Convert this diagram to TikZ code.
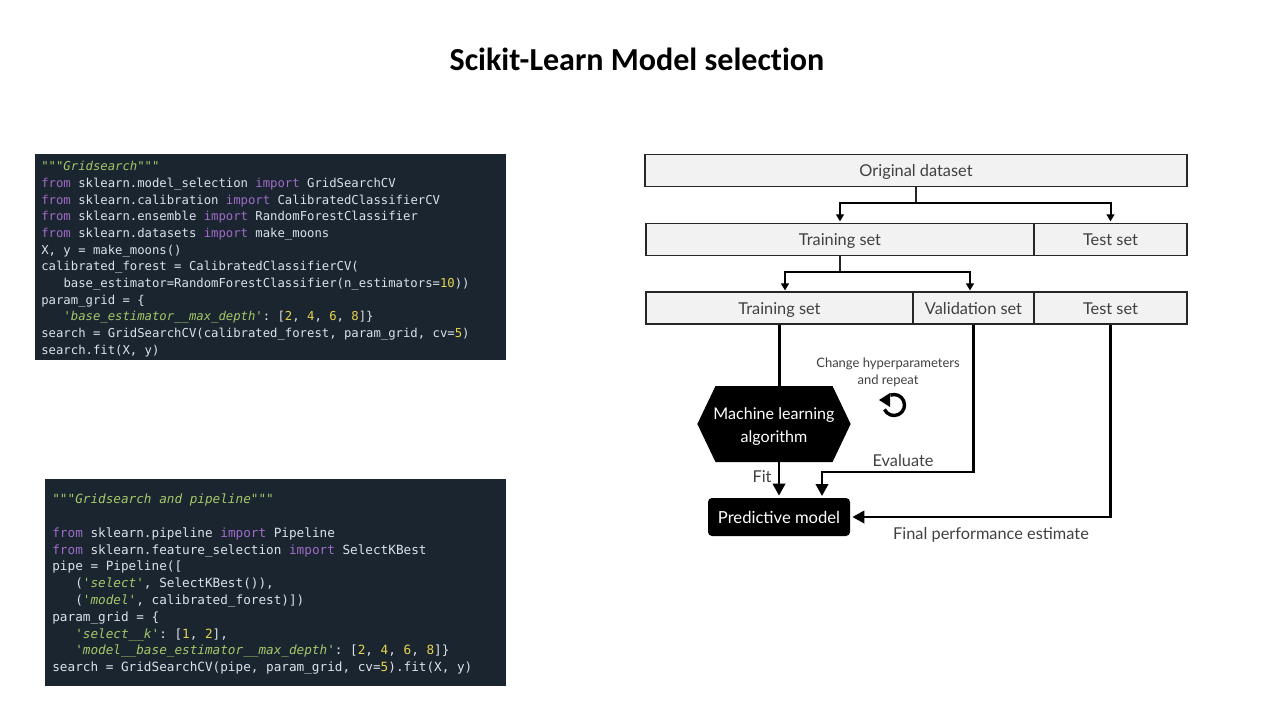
\documentclass[tikz,border=0pt]{standalone}
\usepackage{fontspec}
\setmainfont{Lato}
\newfontfamily\titlefamily[Ligatures=NoCommon]{Carlito}
\newfontfamily\codefamily{DejaVu Sans Mono}
\usetikzlibrary{arrows,arrows.meta,shapes}

\newcommand{\px}{0.02cm}
\newcommand{\kw}[1]{\textcolor{codekw}{#1}}
\newcommand{\str}[1]{\textcolor{codestr}{\itshape #1}}
\newcommand{\num}[1]{\textcolor{codenum}{#1}}
\newcommand{\monospaces}{\spaceskip=0.602em \xspaceskip=0.602em \rule{0pt}{7.3pt}}

\begin{document}
\begin{tikzpicture}[>=stealth',x=\px,y=-\px]

  \definecolor{codebg}{HTML}{1A2530}
  \definecolor{codetxt}{HTML}{DCE2E8}
  \definecolor{codekw}{HTML}{A06CC8}
  \definecolor{codestr}{HTML}{A6C868}
  \definecolor{codenum}{HTML}{E6D44E}
  \definecolor{boxfill}{HTML}{F2F2F2}
  \definecolor{boxline}{HTML}{262626}
  \definecolor{labeltxt}{HTML}{404040}

\tikzstyle{title}=[font=\titlefamily\bfseries\fontsize{18.25pt}{22pt}\selectfont,text=black]

\tikzstyle{code}=[rectangle,anchor=north west,fill=codebg,text=codetxt,
	align=left,inner xsep=0pt,inner ysep=0pt]
\tikzstyle{codea}=[code,font=\codefamily\fontsize{6.98pt}{9.47pt}\selectfont,
	minimum width=471*\px,minimum height=206*\px,text width=459*\px]
\tikzstyle{codeb}=[code,font=\codefamily\fontsize{7.22pt}{9.55pt}\selectfont,
	minimum width=461*\px,minimum height=207*\px,text width=447*\px]

\tikzstyle{bar}=[rectangle,draw=boxline,fill=boxfill,text=labeltxt,line width=1.2*\px,
	font=\fontsize{9.3pt}{11pt}\selectfont,minimum height=32*\px,inner sep=0pt,
	text height=8.1pt,text depth=0.9pt]
\tikzstyle{dark}=[fill=black,text=white,align=center,inner sep=0pt]
\tikzstyle{lbl}=[text=labeltxt,font=\fontsize{9.3pt}{11pt}\selectfont,align=center,inner sep=0pt]
\tikzstyle{small}=[text=labeltxt,font=\fontsize{7.4pt}{9.6pt}\selectfont,align=center,inner sep=0pt]

\tikzstyle{stem}=[draw=boxline,line width=1.5*\px]
\tikzstyle{split}=[-{Triangle[length=4pt,width=4.4pt]},draw=black,line width=2*\px,shorten >=1.5*\px]
\tikzstyle{flow}=[draw=black,line width=2.6*\px]
\tikzstyle{flowa}=[-{Triangle[length=6.8pt,width=7pt]},draw=black,line width=2.6*\px,shorten >=2*\px]

  \useasboundingbox (0,0) rectangle (1280,720);

  \node  (title)  at (637,59)  [title]  {Scikit-Learn Model selection};

  \node  (gridcode)  at (35,154)  [codea]
         {\monospaces
          \str{"""Gridsearch"""}\\
          \kw{from} sklearn.model\_selection \kw{import} GridSearchCV\\
          \kw{from} sklearn.calibration \kw{import} CalibratedClassifierCV\\
          \kw{from} sklearn.ensemble \kw{import} RandomForestClassifier\\
          \kw{from} sklearn.datasets \kw{import} make\_moons\\
          X, y = make\_moons()\\
          calibrated\_forest = CalibratedClassifierCV(\\
          \phantom{xxx}base\_estimator=RandomForestClassifier(n\_estimators=\num{10}))\\
          param\_grid = \{\\
          \phantom{xxx}\str{'base\_estimator\_\_max\_depth'}: [\num{2}, \num{4}, \num{6}, \num{8}]\}\\
          search = GridSearchCV(calibrated\_forest, param\_grid, cv=\num{5})\\
          search.fit(X, y)
         };

  \node  (pipecode)  at (45,479)  [codeb]
         {\monospaces
          \str{"""Gridsearch and pipeline"""}\\
          \mbox{}\\
          \kw{from} sklearn.pipeline \kw{import} Pipeline\\
          \kw{from} sklearn.feature\_selection \kw{import} SelectKBest\\
          pipe = Pipeline([\\
          \phantom{xxx}(\str{'select'}, SelectKBest()),\\
          \phantom{xxx}(\str{'model'}, calibrated\_forest)])\\
          param\_grid = \{\\
          \phantom{xxx}\str{'select\_\_k'}: [\num{1}, \num{2}],\\
          \phantom{xxx}\str{'model\_\_base\_estimator\_\_max\_depth'}: [\num{2}, \num{4}, \num{6}, \num{8}]\}\\
          search = GridSearchCV(pipe, param\_grid, cv=\num{5}).fit(X, y)
         };

  \node  (orig)   at (916,170.5)  [bar,minimum width=542*\px]  {Original dataset};

  \node  (traina) at (840,239.5)  [bar,minimum width=388*\px]  {Training set};
  \node  (testa)  at (1110.5,239.5) [bar,minimum width=153*\px]  {Test set};

  \node  (trainb) at (779.5,308)  [bar,minimum width=267*\px]  {Training set};
  \node  (valid)  at (973.5,308)  [bar,minimum width=121*\px]  {Validation set};
  \node  (testb)  at (1110.5,308) [bar,minimum width=153*\px]  {Test set};

  \node  (algo)   at (774,424)    [dark,signal,signal to=east and west,
         font=\fontsize{9.15pt}{13pt}\selectfont,inner xsep=-2*\px,
         signal pointer angle=129,minimum width=118*\px,minimum height=76*\px]
         {\rule{0pt}{9.3pt}Machine learning\\algorithm};

  \node  (model)  at (779,517)    [dark,rectangle,rounded corners=4*\px,
         font=\fontsize{9.45pt}{13pt}\selectfont,
         minimum width=142*\px,minimum height=38*\px]  {Predictive model};

  \node  (change) at (888,372.5)  [small]  {Change hyperparameters\\and repeat};
  \node  (eval)   at (903,460.5)  [lbl]    {Evaluate};
  \node  (fit)    at (762,477)    [lbl]    {Fit};
  \node  (final)  at (991,534.5)  [lbl]    {Final performance estimate};

  \coordinate (spliti)  at (916,203);
  \coordinate (splitj)  at (840,272);
  \coordinate (intraina) at (785,292);
  \coordinate (invalid)  at (970,292);
  \coordinate (inmodel)  at (822,498);
  \coordinate (elbow)    at (973.5,472);
  \coordinate (icon)     at (894,405);

  \draw [stem]  (orig.south) -- (spliti);
  \draw [split] (spliti) -| (traina.north);
  \draw [split] (spliti) -| (testa.north);

  \draw [stem]  (traina.south) -- (splitj);
  \draw [split] (splitj) -| (intraina);
  \draw [split] (splitj) -| (invalid);

  \draw [flow]  (trainb.south) -- (trainb.south |- algo.north);
  \draw [flowa] (algo.south -| model.north) -- (model.north);
  \draw [flowa] (valid.south) -- (elbow) -| (inmodel);
  \draw [flowa] (testb.south) |- (model.east);

  \draw [draw=black,line width=3.4*\px]
        ([shift={(-205:10.5)}]icon) arc[start angle=-205,end angle=-470,radius=10.5];
  \fill [black] (879,400) -- (890,393) -- (890,407) -- cycle;

\end{tikzpicture}
\end{document}
